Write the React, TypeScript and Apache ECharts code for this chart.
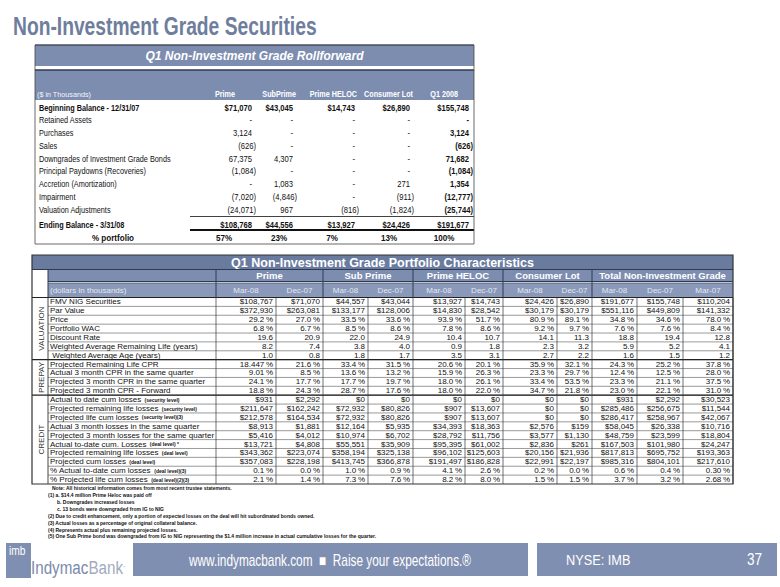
import React, { useEffect, useRef } from "react";
import * as echarts from "echarts";

// ---------- Rollforward data ($ in thousands) ----------
const rollColumns = ["Prime", "SubPrime", "Prime HELOC", "Consumer Lot", "Q1 2008"];
const rollLabels = [
  "Beginning Balance - 12/31/07",
  "Retained Assets",
  "Purchases",
  "Sales",
  "Downgrades of Investment Grade Bonds",
  "Principal Paydowns (Recoveries)",
  "Accretion (Amortization)",
  "Impairment",
  "Valuation Adjustments",
  "Ending Balance - 3/31/08",
  "% portfolio",
];
const rollPrime = [71070, 0, 3124, -626, 67375, -1084, 0, -7020, -24071, 108768, 57];
const rollSubPrime = [43045, 0, 0, 0, 4307, 0, 1083, -4846, 967, 44556, 23];
const rollHeloc = [14743, 0, 0, 0, 0, 0, 0, 0, -816, 13927, 7];
const rollConsumerLot = [26890, 0, 0, 0, 0, 0, 271, -911, -1824, 24426, 13];
const rollQ12008 = [155748, 0, 3124, -626, 71682, -1084, 1354, -12777, -25744, 191677, 100];

// ---------- Portfolio characteristics ----------
const charGroups = ["Prime", "Sub Prime", "Prime HELOC", "Consumer Lot", "Total Non-Investment Grade"];
const charPeriods = ["Mar-08", "Dec-07", "Mar-08", "Dec-07", "Mar-08", "Dec-07", "Mar-08", "Dec-07", "Mar-08", "Dec-07", "Mar-07"];
const charSections = ["VALUATION", "PREPAY", "CREDIT"];
const charSectionRows = [7, 4, 10];
const charLabels = [
  "FMV NIG Securities",
  "Par Value",
  "Price",
  "Portfolio WAC",
  "Discount Rate",
  "Weighted Average Remaining Life (years)",
  " Weighted Average Age (years)",
  "Projected Remaining Life CPR",
  "Actual 3 month CPR in the same quarter",
  "Projected 3 month CPR in the same quarter",
  "Projected 3 month CPR - Forward",
  "Actual to date cum losses",
  "Projected remaining life losses",
  "Projected life cum losses",
  "Actual 3 month losses in the same quarter",
  "Projected 3 month losses for the same quarter",
  "Actual to-date cum. Losses",
  "Projected remaining life losses",
  "Projected cum losses",
  "% Actual to-date cum losses",
  "% Projected life cum losses",
];
const charNotes = ["", "", "", "", "", "", "", "", "", "", "",
  "(security level)", "(security level)", "(security level)(3)", "", "",
  "(deal level) *", "(deal level)", "(deal level)", "(deal level)(3)", "(deal level)(2)(3)"];

const charPrimeMar08 = ["$108,767","$372,930","29.2%","6.8%","19.6","8.2","1.0","18.447%","9.01%","24.1%","18.8%","$931","$211,647","$212,578","$8,913","$5,416","$13,721","$343,362","$357,083","0.1%","2.1%"];
const charPrimeDec07 = ["$71,070","$263,081","27.0%","6.7%","20.9","7.4","0.8","21.6%","8.5%","17.7%","24.3%","$2,292","$162,242","$164,534","$1,881","$4,012","$4,808","$223,074","$228,198","0.0%","1.4%"];
const charSubMar08 = ["$44,557","$133,177","33.5%","8.5%","22.0","3.8","1.8","33.4%","13.6%","17.7%","28.7%","$0","$72,932","$72,932","$12,164","$10,974","$55,551","$358,194","$413,745","1.0%","7.3%"];
const charSubDec07 = ["$43,044","$128,006","33.6%","8.6%","24.9","4.0","1.7","31.5%","13.2%","19.7%","17.6%","$0","$80,826","$80,826","$5,935","$6,702","$35,909","$325,138","$366,878","0.9%","7.6%"];
const charHelocMar08 = ["$13,927","$14,830","93.9%","7.8%","10.4","0.9","3.5","20.6%","15.9%","18.0%","18.0%","$0","$907","$907","$34,393","$28,792","$95,395","$96,102","$191,497","4.1%","8.2%"];
const charHelocDec07 = ["$14,743","$28,542","51.7%","8.6%","10.7","1.8","3.1","20.1%","26.3%","26.1%","22.0%","$0","$13,607","$13,607","$18,363","$11,756","$61,002","$125,603","$186,828","2.6%","8.0%"];
const charConsumerMar08 = ["$24,426","$30,179","80.9%","9.2%","14.1","2.3","2.7","35.9%","23.3%","33.4%","34.7%","$0","$0","$0","$2,576","$3,577","$2,836","$20,156","$22,991","0.2%","1.5%"];
const charConsumerDec07 = ["$26,890","$30,179","89.1%","9.7%","11.3","3.2","2.2","32.1%","29.7%","53.5%","21.8%","$0","$0","$0","$159","$1,130","$261","$21,936","$22,197","0.0%","1.5%"];
const charTotalMar08 = ["$191,677","$551,116","34.8%","7.6%","18.8","5.9","1.6","24.3%","12.4%","23.3%","23.0%","$931","$285,486","$286,417","$58,045","$48,759","$167,503","$817,813","$985,316","0.6%","3.7%"];
const charTotalDec07 = ["$155,748","$449,809","34.6%","7.6%","19.4","5.2","1.5","25.2%","12.5%","21.1%","22.1%","$2,292","$256,675","$258,967","$26,338","$23,599","$101,980","$695,752","$804,101","0.4%","3.2%"];
const charTotalMar07 = ["$110,204","$141,332","78.0%","8.4%","12.8","4.1","1.2","37.8%","28.0%","37.5%","31.0%","$30,523","$11,544","$42,067","$10,716","$18,804","$24,247","$193,363","$217,610","0.30%","2.68%"];

const footnotes = [
  "Note: All historical information comes from most recent trustee statements.",
  "(1) a. $14.4 million Prime Heloc was paid off",
  "b. Downgrades increased losses",
  "c. 13 bonds were downgraded from IG to NIG",
  "(2) Due to credit enhancement, only a portion of expected losses on the deal will hit subordinated bonds owned.",
  "(3) Actual losses as a percentage of original collateral balance.",
  "(4) Represents actual plus remaining projected losses.",
  "(5) One Sub Prime bond was downgraded from IG to NIG representing the $1.4 million increase in actual cumulative losses for the quarter.",
];

// ---------- helpers ----------
const SANS = "'Liberation Sans', Arial, sans-serif";
const BAND = "#7d8db0";
const BAND_DARK = "#6a7ba0";
const LINE = "#3a3a3a";

type Opt = { size?: number; fill?: string; weight?: string; italic?: boolean; align?: string; family?: string; rotation?: number; sx?: number };
const txt = (x: number, y: number, text: string, o: Opt = {}) => ({
  type: "text",
  x,
  y,
  rotation: o.rotation || 0,
  scaleX: o.sx || 1,
  silent: true,
  style: {
    text,
    fill: o.fill || "#111",
    fontSize: o.size || 8,
    fontFamily: o.family || SANS,
    fontWeight: o.weight || "normal",
    fontStyle: o.italic ? "italic" : "normal",
    align: o.align || "left",
    verticalAlign: "middle",
  },
});
const rect = (x: number, y: number, w: number, h: number, fill: string, stroke?: string, lw = 1) => ({
  type: "rect",
  silent: true,
  shape: { x, y, width: w, height: h },
  style: { fill, stroke: stroke || null, lineWidth: lw },
});
const line = (x1: number, y1: number, x2: number, y2: number, stroke = LINE, lw = 0.7) => ({
  type: "line",
  silent: true,
  shape: { x1, y1, x2, y2 },
  style: { stroke, lineWidth: lw },
});
const comma = (v: number) => Math.abs(v).toLocaleString("en-US");
const pctSpace = (s: string) => s.replace("%", "\u2009%");

function buildElements() {
  const els: any[] = [];

  // Page title
  els.push(txt(13, 27, "Non-Investment Grade Securities", { size: 25, fill: "#6e7e9c", weight: "bold", sx: 0.77 }));

  // ===== Rollforward =====
  const rx0 = 35, rx1 = 474;
  els.push(rect(rx0, 45, rx1 - rx0, 21, BAND));
  els.push(line(rx0, 45, rx1, 45, "#3b4660", 1));
  els.push(txt((rx0 + rx1) / 2, 56, "Q1 Non-Investment Grade Rollforward", { size: 12, fill: "#fff", weight: "bold", italic: true, align: "center" }));
  els.push(rect(rx0, 70, rx1 - rx0, 30, BAND));
  els.push(line(rx0, 70, rx1, 70, "#2f3a52", 1.5));
  els.push(txt(37, 94, "($ in Thousands)", { size: 8, fill: "#f4f6fa", sx: 0.9 }));
  const headRight = [235, 296, 357, 413, 458];
  const headCenter = [224, 279, 332, 389, 444];
  rollColumns.forEach((c, i) => els.push(txt(headRight[i], 94, c, { size: 8.5, fill: "#fff", weight: "bold", align: "right", sx: 0.85 })));

  const rollCols = [rollPrime, rollSubPrime, rollHeloc, rollConsumerLot, rollQ12008];
  const valRight = [256, 297, 359, 414, 473];
  const rowY = (i: number) => (i < 9 ? 108 + i * 12.75 : i === 9 ? 225 : 238);
  rollLabels.forEach((lab, i) => {
    const y = rowY(i);
    const bold = i === 0 || i === 9;
    if (i === 10) {
      els.push(txt(113, y, lab, { size: 8.5, weight: "bold", align: "center", sx: 0.95 }));
    } else {
      els.push(txt(39, y, lab, { size: 8.3, weight: bold ? "bold" : "normal", sx: 0.88 }));
    }
    rollCols.forEach((col, c) => {
      const v = col[i];
      const isTot = c === 4;
      const w = bold || isTot || i === 10 ? "bold" : "normal";
      if (i === 10) {
        els.push(txt(headCenter[c], y, v + "%", { size: 8.5, weight: "bold", align: "center", sx: 0.95 }));
        return;
      }
      let s: string;
      if (i === 0 || i === 9) s = "$" + comma(v);
      else if (v === 0) s = "-";
      else if (v < 0) s = "(" + comma(v) + ")";
      else s = comma(v);
      const xr = v < 0 ? valRight[c] : valRight[c] - 4;
      els.push(txt(xr, y, s, { size: 8.3, weight: w, align: "right", sx: 0.92 }));
    });
  });
  els.push(line(190, 216.5, rx1, 216.5, "#111", 0.8));
  els.push(line(190, 230, rx1, 230, "#111", 2));
  // box outline
  els.push(rect(rx0, 45, rx1 - rx0, 199, "none", "#444", 0.8));

  // ===== Portfolio characteristics =====
  const tx0 = 32, tx1 = 733, sx1 = 48;
  const tTop = 255, gTop = 269.5, shTop = 281.5, dTop = 297.5, tBot = 484;
  const rh = (tBot - dTop) / charLabels.length;
  const groupEdges = [216, 323, 413, 503, 592, 733];
  const colEdges = [216, 276, 323, 368, 413, 465, 503, 557, 592, 637, 683, 733];

  els.push(rect(tx0, tTop, tx1 - tx0, gTop - tTop, BAND_DARK));
  els.push(txt((tx0 + tx1) / 2, tTop + 7.5, "Q1 Non-Investment Grade Portfolio Characteristics", { size: 12.5, fill: "#fff", weight: "bold", align: "center" }));
  els.push(rect(sx1, gTop, tx1 - sx1, shTop - gTop, BAND));
  els.push(rect(sx1, shTop + 1.5, tx1 - sx1, dTop - shTop - 1.5, "#8a99b9"));
  charGroups.forEach((g, i) => {
    els.push(txt((groupEdges[i] + groupEdges[i + 1]) / 2, gTop + 6, g, { size: 9.5, fill: "#fff", weight: "bold", align: "center" }));
  });
  els.push(txt(50, shTop + 9, "(dollars in thousands)", { size: 8, fill: "#e3e8f2" }));
  charPeriods.forEach((p, i) => {
    els.push(txt((colEdges[i] + colEdges[i + 1]) / 2, shTop + 9, p, { size: 8, fill: "#e3e8f2", align: "center" }));
  });
  // header lines
  els.push(line(tx0, gTop, tx1, gTop, "#2f3a52", 1));
  els.push(line(sx1, shTop, tx1, shTop, "#2f3a52", 1));
  els.push(line(sx1, shTop + 1.5, tx1, shTop + 1.5, "#2f3a52", 0.6));
  els.push(line(tx0, dTop, tx1, dTop, "#222", 1.2));
  [sx1, ...groupEdges.slice(0, 5)].forEach((x) => els.push(line(x, gTop, x, dTop, "#2f3a52", 1)));

  // data
  const charCols = [charPrimeMar08, charPrimeDec07, charSubMar08, charSubDec07, charHelocMar08, charHelocDec07,
    charConsumerMar08, charConsumerDec07, charTotalMar08, charTotalDec07, charTotalMar07];
  charLabels.forEach((lab, r) => {
    const yc = dTop + rh * (r + 0.5);
    if (charNotes[r]) {
      els.push({
        type: "text", x: 50, y: yc, silent: true,
        style: {
          text: "{a|" + lab + "} {b|" + charNotes[r] + "}",
          verticalAlign: "middle", align: "left",
          rich: {
            a: { fontSize: 8, fontFamily: SANS, fill: "#111" },
            b: { fontSize: 5, fontFamily: SANS, fontWeight: "bold", fill: "#111" },
          },
        },
      });
    } else {
      els.push(txt(50, yc, lab, { size: 8 }));
    }
    charCols.forEach((col, c) => {
      els.push(txt(colEdges[c + 1] - 3, yc, pctSpace(col[r]), { size: 8, align: "right" }));
    });
    if (r < charLabels.length - 1) els.push(line(sx1, dTop + rh * (r + 1), tx1, dTop + rh * (r + 1), "#555", 0.6));
  });
  // section separators and labels
  let acc = 0;
  charSections.forEach((s, i) => {
    const y0 = dTop + rh * acc;
    const y1 = dTop + rh * (acc + charSectionRows[i]);
    els.push(txt((tx0 + sx1) / 2 + 1, (y0 + y1) / 2, s, { size: 8, fill: "#333", align: "center", rotation: Math.PI / 2 }));
    if (i > 0) els.push(line(tx0, y0, tx1, y0, "#222", 1.2));
    acc += charSectionRows[i];
  });
  colEdges.forEach((x) => els.push(line(x, dTop, x, tBot, "#333", 0.7)));
  els.push(line(sx1, dTop, sx1, tBot, "#333", 0.9));
  els.push(rect(tx0, tTop, tx1 - tx0, tBot - tTop, "none", "#333", 1.2));

  // footnotes
  const noteY = [488, 495, 502, 509, 516, 522.5, 529.5, 536];
  footnotes.forEach((f, i) => {
    const x = i === 0 ? 52 : i === 2 || i === 3 ? 57 : 48;
    els.push(txt(x, noteY[i], f, { size: 5, weight: "bold", fill: "#111" }));
  });

  // ===== Footer =====
  els.push(rect(6, 543, 25, 35, "#7f8fb1"));
  els.push(txt(9, 551, "imb", { size: 12, fill: "#fff", sx: 0.85 }));
  els.push({
    type: "text", x: 31, y: 567, scaleX: 0.8, silent: true,
    style: {
      text: "{a|Indymac}{b|Bank}{c|·}",
      verticalAlign: "middle",
      rich: {
        a: { fontSize: 19, fontFamily: SANS, fill: "#7a8aac" },
        b: { fontSize: 19, fontFamily: SANS, fill: "#a3abbd" },
        c: { fontSize: 10, fontFamily: SANS, fill: "#a3abbd" },
      },
    },
  });
  els.push(rect(133, 543, 395, 33, "#7f8fb1"));
  els.push(txt(330, 560, "www.indymacbank.com  \u25A0  Raise your expectations.\u00AE", { size: 16, fill: "#fff", align: "center", sx: 0.74 }));
  els.push(rect(537, 543, 240, 33, "#7f8fb1"));
  els.push(txt(566, 560, "NYSE: IMB", { size: 15, fill: "#fff", sx: 0.85 }));
  els.push(txt(762, 560, "37", { size: 16, fill: "#fff", align: "right", sx: 0.85 }));

  return els;
}

export default function App() {
  const ref = useRef<HTMLDivElement>(null);
  useEffect(() => {
    if (!ref.current) return;
    const chart = echarts.init(ref.current, null, { renderer: "svg" });
    chart.setOption({
      animation: false,
      backgroundColor: "#ffffff",
      graphic: { elements: buildElements() },
    });
    return () => chart.dispose();
  }, []);
  return <div ref={ref} style={{ position: "fixed", left: 0, top: 0, width: 780, height: 587 }} />;
}
